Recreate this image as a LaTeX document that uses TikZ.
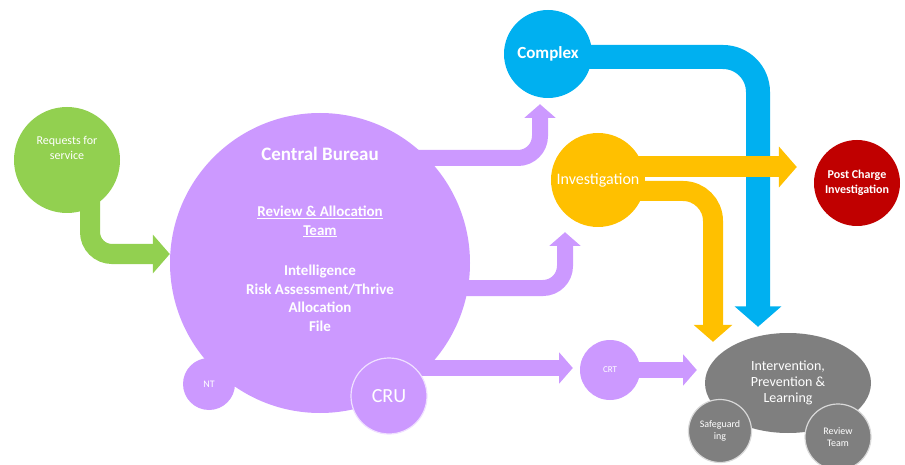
\documentclass[tikz,border=0pt]{standalone}
\usepackage{fontspec}
\setmainfont{Carlito}
\usetikzlibrary{arrows.meta}
\usetikzlibrary{positioning}
\usetikzlibrary{shapes.geometric}
\definecolor{cgreen}{RGB}{146,208,80}
\definecolor{cpurple}{RGB}{204,153,255}
\definecolor{cblue}{RGB}{0,176,240}
\definecolor{corange}{RGB}{255,192,0}
\definecolor{cred}{RGB}{192,0,0}
\definecolor{cgrey}{RGB}{127,127,127}
\pgfdeclarelayer{back}
\pgfsetlayers{back,main}
\tikzset{
  blob/.style={circle, inner sep=0pt, text=white, align=center},
  rim/.style={draw=white!70!#1, line width=1.2pt},
  flow/.style={draw, line width=#1, rounded corners=22pt, -{Triangle[width=0pt 1.9, length=0pt 0.85]}}
  }

\begin{document}
\begin{tikzpicture}[x=1pt, y=-1pt]
	\useasboundingbox (0,0) rectangle (905,465);

	% Nodes
	\node[blob, fill=cgreen, minimum size=106pt, font=\fontsize{12}{17}\selectfont] (req) at (67,160) {Requests for\\[-2pt]service\\[8pt]};
	\node[blob, fill=cpurple, minimum size=300pt] (bureau) at (320,263) {};
	\node[text=white, align=center, font=\bfseries\fontsize{15}{18.5}\selectfont] (bureautext) at ([yshift=24pt]bureau.center)
		{{\fontsize{19}{22}\selectfont Central Bureau}\\[38pt]
		 \underline{Review \& Allocation}\\\underline{Team}\\[22pt]
		 Intelligence\\Risk Assessment/Thrive\\Allocation\\File};
	\node[blob, fill=cpurple, minimum size=52pt, font=\fontsize{10}{12}\selectfont] (nt) at (209,384) {NT};
	\node[blob, fill=cpurple, rim=cpurple, minimum size=76pt, font=\fontsize{20}{24}\selectfont] (cru) at (389,396) {CRU};
	\node[blob, fill=cblue, minimum size=88pt, font=\bfseries\fontsize{17}{20}\selectfont] (complex) at (548,54) {Complex};
	\node[blob, fill=corange, minimum size=94pt, font=\fontsize{16}{19}\selectfont] (inv) at (598,180) {Investigation};
	\node[blob, fill=cred, minimum size=86pt, font=\bfseries\fontsize{12}{15}\selectfont] (pcinv) at (857,183) {Post Charge\\Investigation};
	\node[blob, fill=cpurple, minimum size=60pt, font=\fontsize{9}{11}\selectfont] (crt) at (610,370) {CRT};
	\node[ellipse, inner sep=0pt, fill=cgrey, text=white, align=center, minimum width=166pt, minimum height=100pt,
		font=\fontsize{14}{16}\selectfont] (ipl) at (788,383) {Intervention,\\Prevention \&\\Learning};
	\node[blob, fill=cgrey, rim=cgrey, minimum size=63pt, font=\fontsize{10}{12}\selectfont] (safe) at (720,431) {Safeguard\\ing};
	\node[blob, fill=cgrey, rim=cgrey, minimum size=66pt, font=\fontsize{10}{12}\selectfont] (review) at (838,437) {Review\\Team};

	% Arrows
	\begin{pgfonlayer}{back}
	\draw[flow=20pt, cgreen] ([xshift=23pt]req.center) |- ([yshift=9pt]bureau.west);
	\draw[flow=16pt, cpurple] ([yshift=105pt]bureau.center) -| ([xshift=-8pt,yshift=-6pt]complex.south);
	\draw[flow=16pt, cpurple] ([yshift=-25pt]bureau.center) -| ([xshift=-33pt,yshift=-5pt]inv.south);
	\draw[flow=16pt, cpurple] ([yshift=-105pt]bureau.center) -- ([xshift=-7pt,yshift=2pt]crt.west);
	\draw[flow=16pt, cpurple] (crt.center) -- ([xshift=-8pt,yshift=13pt]ipl.west);
	\draw[flow=24pt, cblue, rounded corners=35pt] ([yshift=-3pt]complex.center) -| ([xshift=-30pt,yshift=6pt]ipl.north);
	\draw[flow=21pt, corange] ([yshift=13pt]inv.center) -- ([xshift=-17pt,yshift=16pt]pcinv.west);
	\draw[flow=20pt, corange, rounded corners=30pt] ([yshift=-11pt]inv.center) -| ([xshift=-75pt,yshift=-9pt]ipl.north);
	\end{pgfonlayer}

\end{tikzpicture}
\end{document}
